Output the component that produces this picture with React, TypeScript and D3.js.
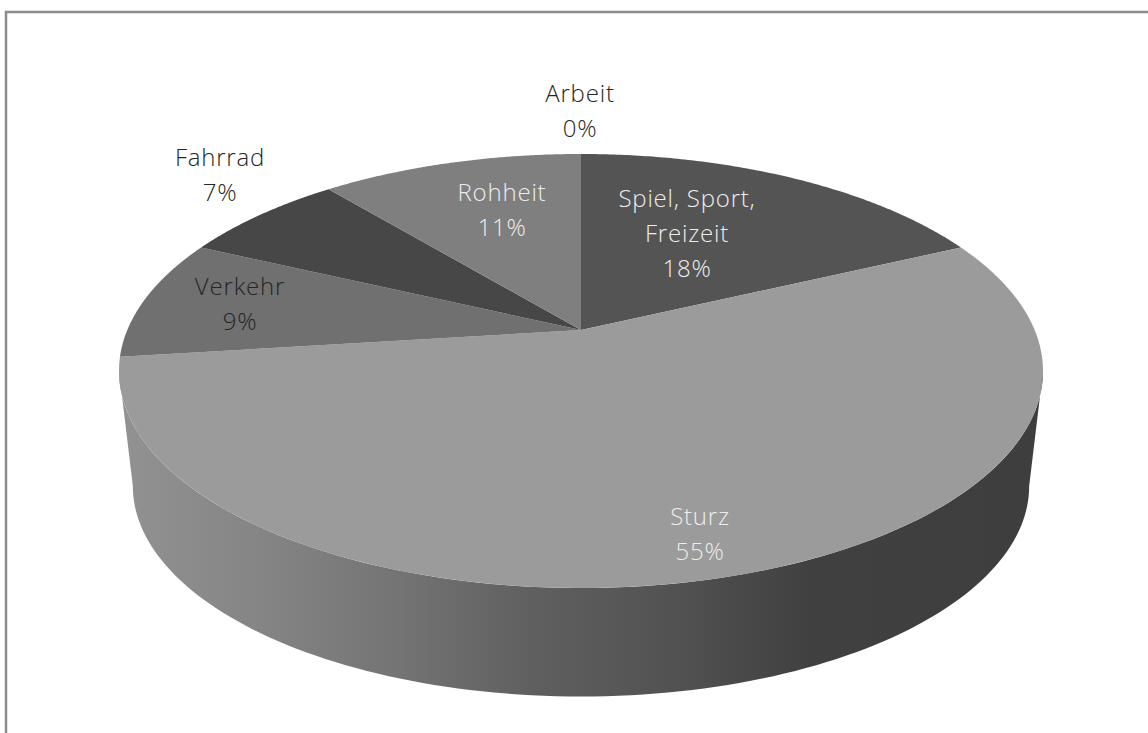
import React from "react";
import * as d3 from "d3";

const WIDTH = 1148;
const HEIGHT = 733;

const categories = ["Spiel, Sport, Freizeit", "Sturz", "Verkehr", "Fahrrad", "Rohheit", "Arbeit"];
const shares = [18, 55, 9, 7, 11, 0];
const sliceColors = ["#545454", "#9b9b9b", "#707070", "#474747", "#7f7f7f", "#3a3a3a"];
const labelLines = [["Spiel, Sport,", "Freizeit", "18%"], ["Sturz", "55%"], ["Verkehr", "9%"], ["Fahrrad", "7%"], ["Rohheit", "11%"], ["Arbeit", "0%"]];
const labelAnchors: [number, number][] = [[687, 199], [700, 517], [240, 287], [220, 158], [502, 193], [580, 94]];
const labelColors = ["#ededed", "#ededed", "#262626", "#262626", "#ededed", "#262626"];

// Perspective disc: maps a point on the unit circle to screen space, with the
// apex of the pie sitting above the centre of the visible ellipse.
const apex = { x: 581, y: 330 };
const tilt = -0.189;
const scaleX = 453.7;
const scaleY = 146.9;

const projectTop = (angle: number): [number, number] => {
  const u = Math.sin(angle);
  const v = -Math.cos(angle);
  const w = 1 + tilt * v;
  return [apex.x + (scaleX * u) / w, (scaleY * v + apex.y) / w];
};

// The lower rim shrinks slightly and drops, as it is further from the camera.
const rimShrink = 0.97;
const rimCentre = { top: 371, bottom: 486 };
const projectBottom = (angle: number): [number, number] => {
  const [x, y] = projectTop(angle);
  return [apex.x + (x - apex.x) * rimShrink, rimCentre.bottom + (y - rimCentre.top) * rimShrink];
};

const line = d3.line();
const arcs = d3.pie<number>().sort(null).value((d) => d)(shares);
const sampleAngles = (a0: number, a1: number) => d3.range(0, 121).map((i) => a0 + ((a1 - a0) * i) / 120);

// The wall is visible between the two horizontal extremes of the disc.
const wallFrom = Math.PI / 2 + Math.asin(0.189);
const wallTo = (3 * Math.PI) / 2 - Math.asin(0.189);
const wallAngles = sampleAngles(wallFrom, wallTo);
const wallPath = line([...wallAngles.map(projectTop), ...wallAngles.slice().reverse().map(projectBottom)]) + "Z";

const wallStops: [number, string][] = [
  [0, "#929292"],
  [0.15, "#858585"],
  [0.3, "#747474"],
  [0.45, "#5f5f5f"],
  [0.6, "#525252"],
  [0.75, "#404040"],
  [1, "#3e3e3e"],
];

export default function App() {
  return (
    <svg
      width={WIDTH}
      height={HEIGHT}
      viewBox={`0 0 ${WIDTH} ${HEIGHT}`}
      style={{ position: "absolute", left: 0, top: 0, background: "#fff" }}
    >
      <defs>
        <linearGradient id="wall" gradientUnits="userSpaceOnUse" x1={119} x2={1043} y1={0} y2={0}>
          {wallStops.map(([o, c]) => (
            <stop key={o} offset={o} stopColor={c} />
          ))}
        </linearGradient>
      </defs>
      <path d={`M6 ${HEIGHT}V12H${WIDTH}`} fill="none" stroke="#8c8c8c" strokeWidth={2.5} />
      <path d={wallPath} fill="url(#wall)" />
      {arcs.map((a, i) =>
        a.value > 0 ? (
          <path
            key={categories[i]}
            d={line([[apex.x, apex.y], ...sampleAngles(a.startAngle, a.endAngle).map(projectTop)]) + "Z"}
            fill={sliceColors[i]}
          />
        ) : null
      )}
      {labelLines.map((lines, i) => (
        <text
          key={categories[i]}
          textAnchor="middle"
          fontFamily="'Open Sans', sans-serif"
          fontWeight={300}
          fontSize={24}
          letterSpacing={0.8}
          fill={labelColors[i]}
        >
          {lines.map((t, j) => (
            <tspan key={t} x={labelAnchors[i][0]} y={labelAnchors[i][1] + 8 + j * 35}>
              {t}
            </tspan>
          ))}
        </text>
      ))}
    </svg>
  );
}
